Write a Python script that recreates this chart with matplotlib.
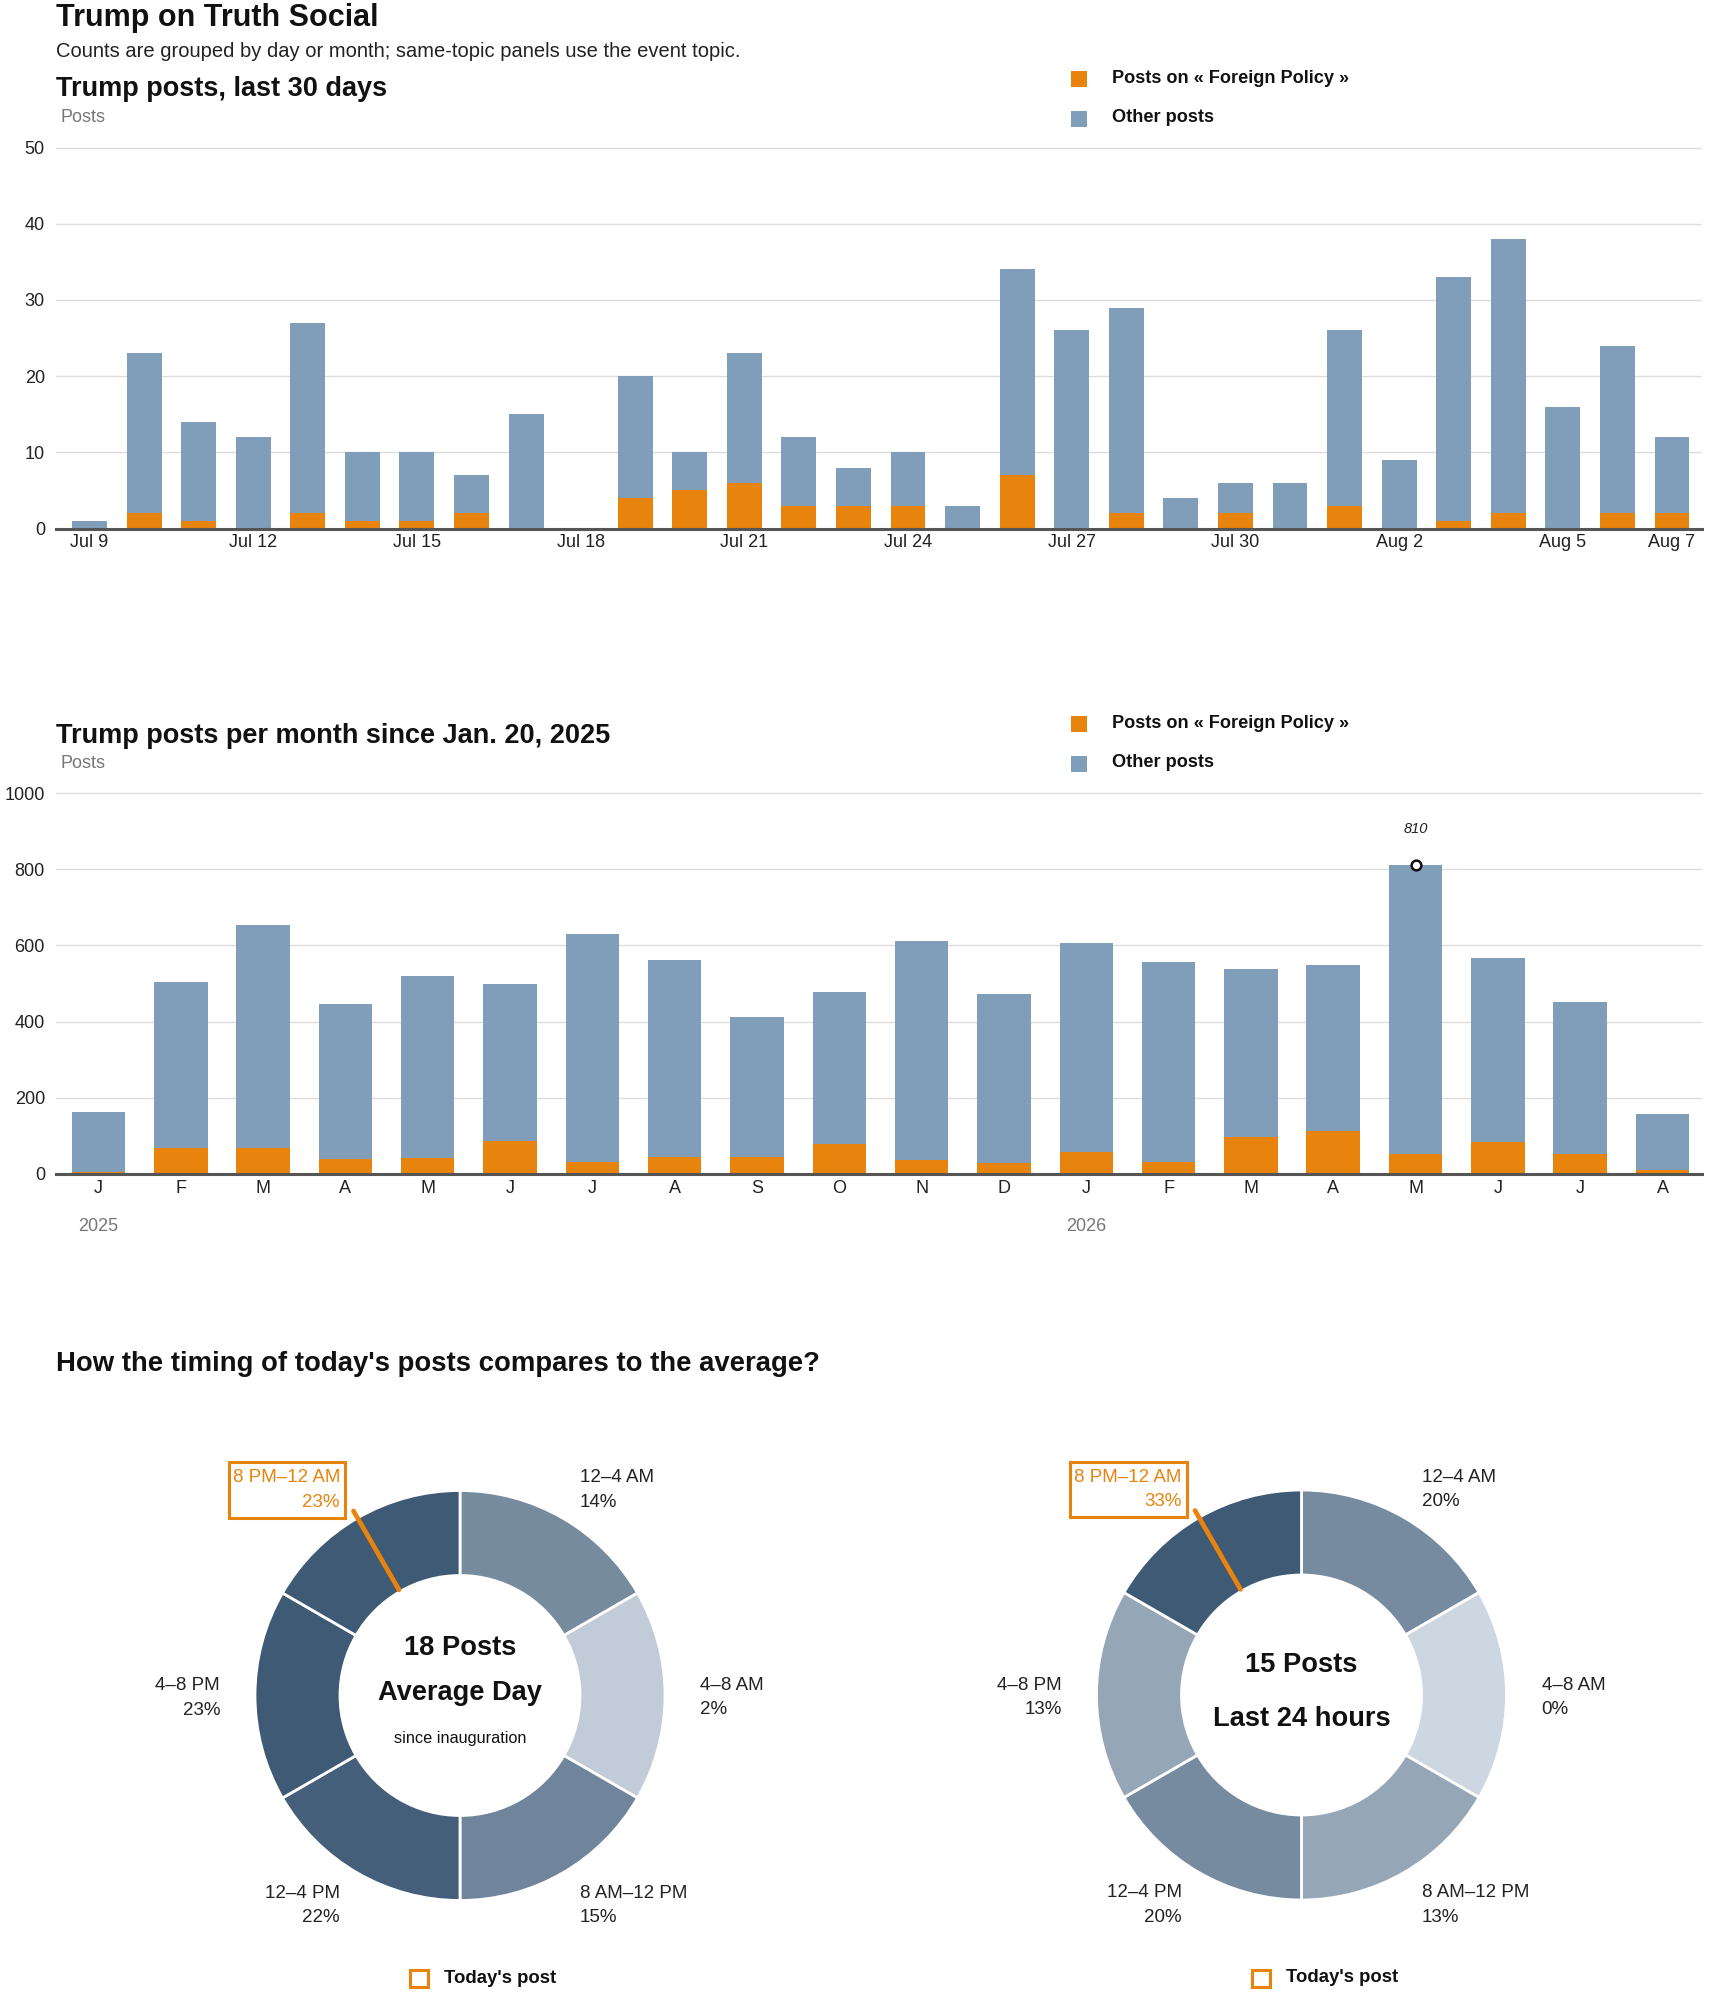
import matplotlib
matplotlib.use('Agg')
import matplotlib.pyplot as plt
from matplotlib.patches import Rectangle
import numpy as np

plt.rcParams['font.family'] = ['Liberation Sans', 'DejaVu Sans']
HEAVY = dict(fontweight='bold')

# ---------------- data ----------------
days = ['Jul 9', 'Jul 10', 'Jul 11', 'Jul 12', 'Jul 13', 'Jul 14', 'Jul 15', 'Jul 16',
        'Jul 17', 'Jul 18', 'Jul 19', 'Jul 20', 'Jul 21', 'Jul 22', 'Jul 23', 'Jul 24',
        'Jul 25', 'Jul 26', 'Jul 27', 'Jul 28', 'Jul 29', 'Jul 30', 'Jul 31', 'Aug 1',
        'Aug 2', 'Aug 3', 'Aug 4', 'Aug 5', 'Aug 6', 'Aug 7']
daily_total = [1, 23, 14, 12, 27, 10, 10, 7, 15, 0, 20, 10, 23, 12, 8, 10,
               3, 34, 26, 29, 4, 6, 6, 26, 9, 33, 38, 16, 24, 12]
daily_foreign = [0, 2, 1, 0, 2, 1, 1, 2, 0, 0, 4, 5, 6, 3, 3, 3,
                 0, 7, 0, 2, 0, 2, 0, 3, 0, 1, 2, 0, 2, 2]
day_ticks = ['Jul 9', 'Jul 12', 'Jul 15', 'Jul 18', 'Jul 21', 'Jul 24', 'Jul 27',
             'Jul 30', 'Aug 2', 'Aug 5', 'Aug 7']
daily_yticks = [0, 10, 20, 30, 40, 50]

months = ['J', 'F', 'M', 'A', 'M', 'J', 'J', 'A', 'S', 'O', 'N', 'D',
          'J', 'F', 'M', 'A', 'M', 'J', 'J', 'A']
month_years = ['2025', '2025', '2025', '2025', '2025', '2025', '2025', '2025', '2025',
               '2025', '2025', '2025', '2026', '2026', '2026', '2026', '2026', '2026',
               '2026', '2026']
monthly_total = [164, 504, 654, 447, 520, 499, 630, 562, 412, 477, 612, 473,
                 607, 556, 538, 549, 810, 568, 451, 158]
monthly_foreign = [5, 69, 69, 39, 43, 86, 31, 45, 45, 79, 37, 30,
                   58, 32, 96, 113, 53, 83, 53, 11]
monthly_yticks = [0, 200, 400, 600, 800, 1000]

slot_labels = ['12–4 AM', '4–8 AM', '8 AM–12 PM', '12–4 PM', '4–8 PM', '8 PM–12 AM']
slot_hours = [4, 4, 4, 4, 4, 4]
avg_share = [14, 2, 15, 22, 23, 23]
day_share = [20, 0, 13, 20, 13, 33]
avg_posts = 18
day_posts = 15
today_post_hour = 22

topic = 'Foreign Policy'

# ---------------- style ----------------
ORANGE = '#E8830E'
BLUE = '#809EBA'
DARK = '#111111'
GRID = '#dddddd'
LIGHT_RGB = np.array([205, 215, 225]) / 255
DARK_RGB = np.array([63, 90, 117]) / 255

W, H = 1710, 1993
fig = plt.figure(figsize=(W / 100, H / 100), dpi=100)
fig.patch.set_facecolor('white')


def px_axes(x0, y0, x1, y1):
    return fig.add_axes([x0 / W, 1 - y1 / H, (x1 - x0) / W, (y1 - y0) / H])


def ftext(x, y, s, **kw):
    kw.setdefault('va', 'baseline')
    return fig.text(x / W, 1 - y / H, s, **kw)


def fsquare(x0, y0, size, **kw):
    fig.patches.append(Rectangle((x0 / W, 1 - (y0 + size) / H), size / W, size / H,
                                 transform=fig.transFigure, **kw))


def legend(y_top):
    fsquare(1071, y_top, 16, facecolor=ORANGE, edgecolor='none')
    ftext(1112, y_top + 12, 'Posts on « %s »' % topic, fontsize=13.1, color=DARK, **HEAVY)
    fsquare(1071, y_top + 40, 16, facecolor=BLUE, edgecolor='none')
    ftext(1112, y_top + 51, 'Other posts', fontsize=13.1, color=DARK, **HEAVY)


def style_bar_axes(ax):
    for s in ['top', 'right', 'left']:
        ax.spines[s].set_visible(False)
    ax.spines['bottom'].set_color('#555555')
    ax.spines['bottom'].set_linewidth(2.2)
    ax.spines['bottom'].set_zorder(5)
    ax.yaxis.grid(True, color=GRID, linewidth=1.0)
    ax.set_axisbelow(True)
    ax.tick_params(axis='both', length=0, labelsize=13, colors='#222222')
    ax.tick_params(axis='y', pad=8)
    ax.tick_params(axis='x', pad=4)


# ---------------- headings ----------------
ftext(56, 26, 'Trump on Truth Social', fontsize=22, color=DARK, **HEAVY)
ftext(56, 57, 'Counts are grouped by day or month; same-topic panels use the event topic.',
      fontsize=14.5, color='#222222')

# ---------------- daily chart ----------------
ftext(56, 96, 'Trump posts, last 30 days', fontsize=19.5, color=DARK, **HEAVY)
ftext(60, 122, 'Posts', fontsize=13, color='#777777')
legend(71)

ax1 = px_axes(56, 143.7, 1702, 528.5)
x1 = np.arange(len(days))
d_for = np.array(daily_foreign)
d_oth = np.array(daily_total) - d_for
ax1.bar(x1, d_for, width=0.64, color=ORANGE, zorder=3)
ax1.bar(x1, d_oth, bottom=d_for, width=0.64, color=BLUE, zorder=3)
ax1.set_xlim(-0.614, 29.55)
ax1.set_ylim(0, 50.5)
ax1.set_yticks(daily_yticks)
ax1.set_xticks([days.index(t) for t in day_ticks])
ax1.set_xticklabels(day_ticks)
style_bar_axes(ax1)

# ---------------- monthly chart ----------------
ftext(56, 743, 'Trump posts per month since Jan. 20, 2025', fontsize=19.5,
      color=DARK, **HEAVY)
ftext(60, 768, 'Posts', fontsize=13, color='#777777')
legend(716)

ax2 = px_axes(56, 789.2, 1702, 1174)
x2 = np.arange(len(months))
m_for = np.array(monthly_foreign)
m_oth = np.array(monthly_total) - m_for
ax2.bar(x2, m_for, width=0.65, color=ORANGE, zorder=3)
ax2.bar(x2, m_oth, bottom=m_for, width=0.65, color=BLUE, zorder=3)
ax2.set_xlim(-0.516, 19.48)
ax2.set_ylim(0, 1010)
ax2.set_yticks(monthly_yticks)
ax2.set_xticks(x2)
ax2.set_xticklabels(months)
style_bar_axes(ax2)
seen = set()
for i, yr in enumerate(month_years):
    if yr not in seen:
        seen.add(yr)
        ax2.annotate(yr, xy=(i, 0), xytext=(0, -38), textcoords='offset points',
                     ha='center', va='center', fontsize=13, color='#777777')
imax = int(np.argmax(monthly_total))
ax2.plot(imax, monthly_total[imax], 'o', mfc='white', mec='#111111', ms=7, mew=1.8,
         zorder=6, clip_on=False)
ax2.annotate(str(monthly_total[imax]), xy=(imax, monthly_total[imax]), xytext=(0, 26),
             textcoords='offset points', ha='center', va='center', fontsize=10.5,
             style='italic', color='#222222')

# ---------------- donuts ----------------
ftext(56, 1371, "How the timing of today's posts compares to the average?", fontsize=19.8,
      color=DARK, **HEAVY)


def donut(cx, cy, shares, lines):
    ax = px_axes(cx - 300, cy - 300, cx + 300, cy + 300)
    mx = max(shares)
    cols = [tuple(LIGHT_RGB + (DARK_RGB - LIGHT_RGB) * (s / mx)) for s in shares]
    ax.pie(slot_hours, radius=205, startangle=90, counterclock=False, colors=cols,
           wedgeprops=dict(width=85, edgecolor='white', linewidth=2))
    ax.set_xlim(-300, 300)
    ax.set_ylim(-300, 300)
    ax.set_aspect('equal')
    ax.axis('off')

    hl = int(today_post_hour // 4)
    edges = np.cumsum([0] + slot_hours)
    for k, (lab, s) in enumerate(zip(slot_labels, shares)):
        mid = (edges[k] + edges[k + 1]) / 2 / 24 * 2 * np.pi
        ax_, ay_ = 240 * np.sin(mid), 240 * np.cos(mid)
        ha = 'left' if np.sin(mid) > 0 else 'right'
        col = ORANGE if k == hl else '#222222'
        t1 = ax.text(ax_, ay_ + 5.5, lab, ha=ha, va='baseline', fontsize=13.5, color=col)
        t2 = ax.text(ax_, ay_ - 19, '%d%%' % s, ha=ha, va='baseline', fontsize=13.5,
                     color=col)
        if k == hl:
            fig.canvas.draw()
            r = fig.canvas.get_renderer()
            bb = [t.get_window_extent(r) for t in (t1, t2)]
            inv = ax.transData.inverted()
            xa, ya = inv.transform((min(b.x0 for b in bb), min(b.y0 for b in bb)))
            xb, yb = inv.transform((max(b.x1 for b in bb), max(b.y1 for b in bb)))
            ax.add_patch(Rectangle((xa - 4, ya - 7), (xb - xa) + 9, (yb - ya) + 14,
                                   fill=False, edgecolor=ORANGE, linewidth=2.2,
                                   clip_on=False, zorder=4))

    th = today_post_hour / 24 * 2 * np.pi
    ax.plot([122 * np.sin(th), 213 * np.sin(th)], [122 * np.cos(th), 213 * np.cos(th)],
            color=ORANGE, lw=3.4, solid_capstyle='round', zorder=5)

    for (txt, yy, fs, heavy) in lines:
        kw = dict(HEAVY) if heavy else {}
        ax.text(0, yy, txt, ha='center', va='baseline', fontsize=fs, color=DARK, **kw)

    ax.add_patch(Rectangle((-50, -291.5), 18, 17, fill=False, edgecolor=ORANGE,
                           linewidth=2.2, clip_on=False))
    ax.text(-16, -287.5, "Today's post", ha='left', va='baseline', fontsize=13.3,
            color=DARK, **HEAVY)


donut(460, 1695.5, avg_share,
      [('%d Posts' % avg_posts, 40.5, 19.6, True),
       ('Average Day', -5, 19.6, True),
       ('since inauguration', -47.5, 11.7, False)])
donut(1301.5, 1695, day_share,
      [('%d Posts' % day_posts, 22.5, 19.6, True),
       ('Last 24 hours', -31.5, 19.6, True)])

fig.savefig('out.png', dpi=100, facecolor='white')
